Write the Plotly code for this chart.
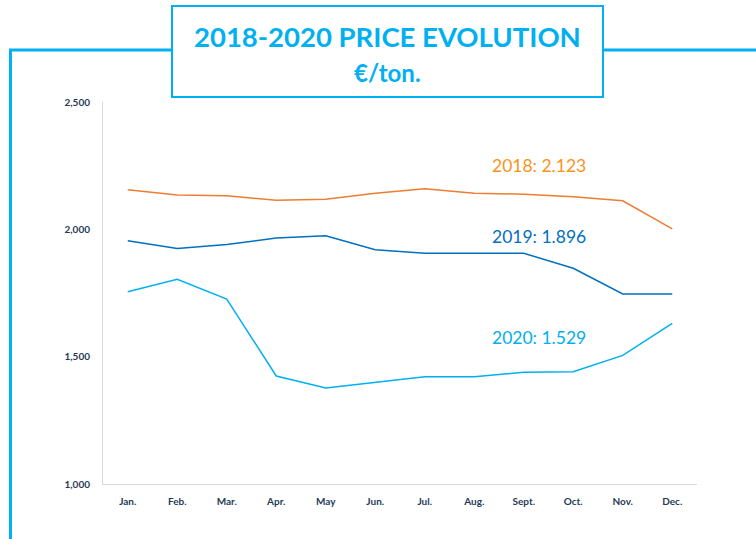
import plotly.graph_objects as go

# Monthly prices, €/ton
months = ["Jan.", "Feb.", "Mar.", "Apr.", "May", "Jun.", "Jul.", "Aug.", "Sept.", "Oct.", "Nov.", "Dec."]
price_2018 = [2155, 2135, 2132, 2114, 2118, 2142, 2159, 2142, 2138, 2128, 2112, 2002]
price_2019 = [1955, 1925, 1940, 1966, 1975, 1920, 1906, 1906, 1906, 1847, 1746, 1746]
price_2020 = [1755, 1804, 1726, 1424, 1377, 1398, 1421, 1421, 1439, 1441, 1505, 1631]

series_names = ["2018", "2019", "2020"]
series_labels = ["2018: 2.123", "2019: 1.896", "2020: 1.529"]
y_ticks = [1000, 1500, 2000, 2500]
y_tick_text = ["1,000", "1,500", "2,000", "2,500"]

CYAN = "#00B0F0"
line_colors = ["#ED7D31", "#0070C0", "#00B0F0"]
label_colors = ["#F7941D", "#0070C0", "#00B0F0"]
TICK_COLOR = "#1F3B57"
FONT = "Lato"

W, H = 756, 539
PL, PR, PT, PB = 103, 697, 102, 484  # plot area in pixels


def px(x):
    return (x - PL) / (PR - PL)


def py(y):
    return (PB - y) / (PB - PT)


fig = go.Figure()
for name, vals, col in zip(series_names, [price_2018, price_2019, price_2020], line_colors):
    fig.add_trace(go.Scatter(x=months, y=vals, name=name, mode="lines",
                             line=dict(color=col, width=1.5)))

shapes = [
    # outer frame (left and top edges)
    dict(type="rect", xref="paper", yref="paper",
         x0=px(10.5), x1=px(800), y0=py(600), y1=py(50),
         line=dict(color=CYAN, width=3), fillcolor="rgba(0,0,0,0)", layer="above"),
    # title box
    dict(type="rect", xref="paper", yref="paper",
         x0=px(172), x1=px(603), y0=py(97), y1=py(6),
         line=dict(color=CYAN, width=2), fillcolor="white", layer="above"),
]

annotations = [
    dict(text="<b>2018-2020 PRICE EVOLUTION</b>", xref="paper", yref="paper",
         x=px(387), y=py(37), showarrow=False, xanchor="center", yanchor="middle",
         font=dict(family=FONT, size=27.5, color=CYAN)),
    dict(text="<b>€/ton.</b>", xref="paper", yref="paper",
         x=px(387), y=py(72), showarrow=False, xanchor="center", yanchor="middle",
         font=dict(family=FONT, size=24, color=CYAN)),
]
for lab, col, ypix in zip(series_labels, label_colors, [165, 237, 337]):
    annotations.append(dict(text=lab, xref="paper", yref="paper",
                            x=px(490), y=py(ypix), showarrow=False,
                            xanchor="left", yanchor="middle",
                            font=dict(family=FONT, size=17.5, color=col)))

fig.update_layout(
    width=W, height=H,
    margin=dict(l=PL, r=W - PR, t=PT, b=H - PB, pad=0),
    paper_bgcolor="white", plot_bgcolor="white",
    showlegend=False,
    shapes=shapes,
    annotations=annotations,
    xaxis=dict(type="category", range=[-0.5, 11.5], showgrid=False,
               showline=True, linecolor="#D9D9D9", linewidth=1, ticks="",
               ticklabelstandoff=8,
               tickfont=dict(family=FONT, size=10, color=TICK_COLOR, weight="bold")),
    yaxis=dict(range=[1000, 2500], tickvals=y_ticks, ticktext=y_tick_text,
               showgrid=False, zeroline=False, showline=True, linecolor="#D9D9D9",
               linewidth=1, ticks="", ticklabelstandoff=10,
               tickfont=dict(family=FONT, size=10, color=TICK_COLOR, weight="bold")),
)

fig.write_html("out.html")
